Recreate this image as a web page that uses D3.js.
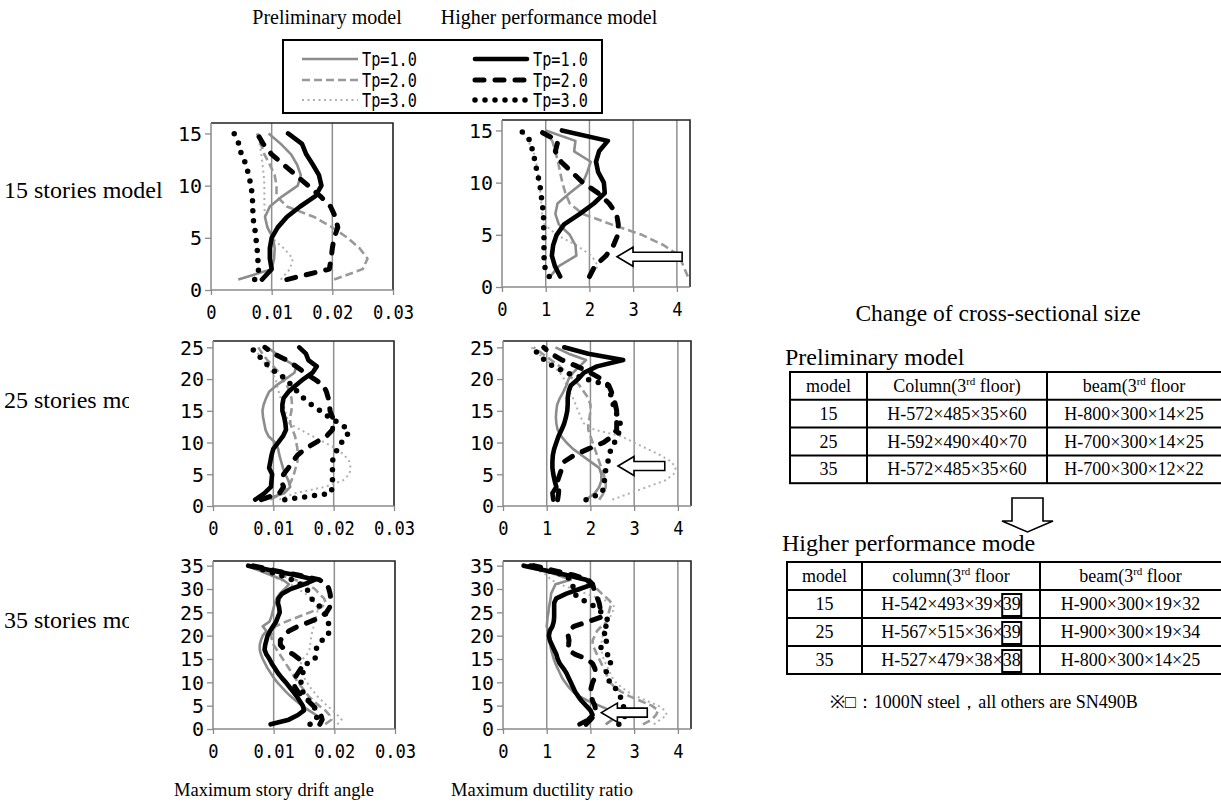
<!DOCTYPE html>
<html>
<head>
<meta charset="utf-8">
<script src="https://cdn.jsdelivr.net/npm/d3@7"></script>
<style>
  body { margin: 0; background: #fff; }
  svg { display: block; }
</style>
</head>
<body>
<svg id="fig" width="1221" height="807"></svg>
<script>
// ---- text ----
const columnTitles = ['Preliminary model', 'Higher performance model']
const rowLabels = ['15 stories model', '25 stories model', '35 stories model']
const axisTitles = ['Maximum story drift angle', 'Maximum ductility ratio']
const legendLabels = ['Tp=1.0', 'Tp=2.0', 'Tp=3.0']

// ---- tick values ----
const driftTicks = [0, 0.01, 0.02, 0.03]
const ductTicks = [0, 1, 2, 3, 4]
const floorTicks15 = [0, 5, 10, 15]
const floorTicks25 = [0, 5, 10, 15, 20, 25]
const floorTicks35 = [0, 5, 10, 15, 20, 25, 30, 35]

// ---- data: value per floor, floor 1 first ----
// 15 stories, max story drift angle
const drift15Pre1 = [0.0045, 0.0100, 0.0104, 0.0105, 0.0102, 0.0093, 0.0089, 0.0097, 0.0118, 0.0143, 0.0148, 0.0142, 0.0132, 0.0115, 0.0095]
const drift15Pre2 = [0.0203, 0.0250, 0.0258, 0.0245, 0.0225, 0.0200, 0.0170, 0.0125, 0.0108, 0.0108, 0.0105, 0.0097, 0.0088, 0.0082, 0.0076]
const drift15Pre3 = [0.0115, 0.0130, 0.0135, 0.0120, 0.0100, 0.0093, 0.0089, 0.0088, 0.0088, 0.0088, 0.0087, 0.0085, 0.0083, 0.0080, 0.0078]
const drift15Hp1 = [0.0084, 0.0100, 0.0097, 0.0097, 0.0100, 0.0110, 0.0125, 0.0147, 0.0172, 0.0182, 0.0178, 0.0168, 0.0157, 0.0150, 0.0127]
const drift15Hp2 = [0.0125, 0.0195, 0.0198, 0.0200, 0.0203, 0.0209, 0.0205, 0.0197, 0.0180, 0.0160, 0.0140, 0.0120, 0.0100, 0.0086, 0.0076]
const drift15Hp3 = [0.0072, 0.0079, 0.0077, 0.0076, 0.0074, 0.0072, 0.0069, 0.0069, 0.0068, 0.0066, 0.0062, 0.0058, 0.0050, 0.0046, 0.0038]

// 15 stories, max ductility ratio
const duct15Pre1 = [1.10, 1.30, 1.70, 1.68, 1.55, 1.30, 1.22, 1.27, 1.55, 1.85, 1.95, 2.03, 1.65, 1.68, 1.00]
const duct15Pre2 = [4.25, 4.15, 4.05, 3.70, 3.20, 2.50, 1.85, 1.55, 1.45, 1.38, 1.33, 1.28, 1.22, 1.15, 0.90]
const duct15Pre3 = [1.98, 2.20, 2.05, 1.70, 1.25, 0.97, 0.92, 0.90, 0.88, 0.85, 0.82, 0.78, 0.72, 0.60, 0.45]
const duct15Hp1 = [1.33, 1.21, 1.14, 1.17, 1.25, 1.42, 1.78, 2.10, 2.35, 2.33, 2.20, 2.15, 2.22, 2.42, 1.37]
const duct15Hp2 = [2.00, 2.12, 2.38, 2.55, 2.65, 2.66, 2.62, 2.45, 2.20, 1.85, 1.60, 1.35, 1.22, 1.28, 0.83]
const duct15Hp3 = [1.08, 0.97, 0.96, 0.96, 0.96, 0.95, 0.95, 0.92, 0.89, 0.86, 0.80, 0.76, 0.70, 0.65, 0.43]

// 25 stories, max story drift angle
const drift25Pre1 = [0.0085, 0.0118, 0.0128, 0.0125, 0.0120, 0.0116, 0.0113, 0.0110, 0.0108, 0.0103, 0.0092, 0.0087, 0.0085, 0.0083, 0.0082, 0.0084, 0.0088, 0.0093, 0.0105, 0.0120, 0.0135, 0.0138, 0.0120, 0.0105, 0.0090]
const drift25Pre2 = [0.0095, 0.0115, 0.0125, 0.0130, 0.0134, 0.0137, 0.0140, 0.0140, 0.0140, 0.0138, 0.0136, 0.0132, 0.0128, 0.0128, 0.0130, 0.0131, 0.0130, 0.0128, 0.0122, 0.0115, 0.0110, 0.0100, 0.0090, 0.0082, 0.0075]
const drift25Pre3 = [0.0110, 0.0135, 0.0185, 0.0215, 0.0226, 0.0228, 0.0226, 0.0218, 0.0205, 0.0185, 0.0165, 0.0145, 0.0127, 0.0122, 0.0120, 0.0116, 0.0112, 0.0109, 0.0106, 0.0104, 0.0098, 0.0090, 0.0082, 0.0075, 0.0068]
const drift25Hp1 = [0.0070, 0.0085, 0.0096, 0.0097, 0.0098, 0.0093, 0.0095, 0.0097, 0.0100, 0.0108, 0.0116, 0.0121, 0.0120, 0.0118, 0.0115, 0.0115, 0.0117, 0.0125, 0.0137, 0.0150, 0.0165, 0.0172, 0.0158, 0.0154, 0.0143]
const drift25Hp2 = [0.0080, 0.0110, 0.0117, 0.0113, 0.0117, 0.0125, 0.0132, 0.0140, 0.0153, 0.0170, 0.0188, 0.0198, 0.0199, 0.0198, 0.0194, 0.0193, 0.0191, 0.0188, 0.0183, 0.0168, 0.0152, 0.0138, 0.0122, 0.0100, 0.0086]
const drift25Hp3 = [0.0119, 0.0195, 0.0198, 0.0198, 0.0198, 0.0198, 0.0198, 0.0200, 0.0207, 0.0213, 0.0222, 0.0225, 0.0210, 0.0192, 0.0178, 0.0163, 0.0150, 0.0140, 0.0130, 0.0122, 0.0105, 0.0092, 0.0083, 0.0072, 0.0063]

// 25 stories, max ductility ratio
const duct25Pre1 = [1.90, 2.10, 2.20, 2.25, 2.25, 2.20, 2.00, 1.80, 1.60, 1.45, 1.33, 1.25, 1.22, 1.21, 1.22, 1.24, 1.30, 1.38, 1.45, 1.50, 1.60, 1.75, 1.90, 1.50, 1.20]
const duct25Pre2 = [2.20, 2.30, 2.35, 2.35, 2.30, 2.25, 2.20, 2.15, 2.10, 2.05, 2.00, 1.95, 1.95, 1.98, 2.00, 2.00, 1.95, 1.85, 1.75, 1.60, 1.45, 1.30, 1.10, 0.90, 0.70]
const duct25Pre3 = [2.50, 2.90, 3.30, 3.70, 3.90, 3.95, 3.85, 3.60, 3.30, 3.00, 2.70, 2.10, 1.85, 1.78, 1.72, 1.66, 1.60, 1.52, 1.45, 1.40, 1.30, 1.15, 1.00, 0.80, 0.65]
const duct25Hp1 = [1.15, 1.13, 1.22, 1.18, 1.15, 1.13, 1.13, 1.14, 1.17, 1.22, 1.27, 1.34, 1.40, 1.44, 1.47, 1.48, 1.48, 1.50, 1.55, 1.72, 1.85, 2.15, 2.75, 1.95, 1.40]
const duct25Hp2 = [1.25, 1.27, 1.28, 1.25, 1.30, 1.35, 1.40, 1.63, 1.95, 2.30, 2.50, 2.60, 2.60, 2.60, 2.60, 2.57, 2.53, 2.48, 2.42, 2.25, 2.00, 1.70, 1.35, 1.10, 0.93]
const duct25Hp3 = [1.90, 2.25, 2.32, 2.32, 2.33, 2.36, 2.40, 2.43, 2.47, 2.55, 2.62, 2.67, 2.68, 2.63, 2.57, 2.52, 2.48, 2.45, 2.40, 1.90, 1.45, 1.15, 0.95, 0.80, 0.66]

// 35 stories, max story drift angle
const drift35Pre1 = [0.0178, 0.0180, 0.0170, 0.0158, 0.0147, 0.0137, 0.0128, 0.0120, 0.0113, 0.0106, 0.0100, 0.0095, 0.0090, 0.0086, 0.0082, 0.0079, 0.0077, 0.0077, 0.0079, 0.0082, 0.0088, 0.0082, 0.0093, 0.0096, 0.0098, 0.0100, 0.0102, 0.0105, 0.0110, 0.0118, 0.0125, 0.0115, 0.0095, 0.0075, 0.0055]
const drift35Pre2 = [0.0185, 0.0195, 0.0192, 0.0185, 0.0175, 0.0166, 0.0158, 0.0152, 0.0146, 0.0140, 0.0135, 0.0130, 0.0125, 0.0120, 0.0115, 0.0110, 0.0105, 0.0100, 0.0097, 0.0096, 0.0098, 0.0103, 0.0120, 0.0140, 0.0160, 0.0178, 0.0186, 0.0183, 0.0175, 0.0168, 0.0155, 0.0135, 0.0110, 0.0085, 0.0060]
const drift35Pre3 = [0.0205, 0.0212, 0.0205, 0.0197, 0.0188, 0.0180, 0.0172, 0.0166, 0.0160, 0.0155, 0.0150, 0.0147, 0.0145, 0.0145, 0.0148, 0.0155, 0.0159, 0.0160, 0.0161, 0.0162, 0.0164, 0.0166, 0.0168, 0.0170, 0.0172, 0.0172, 0.0168, 0.0162, 0.0152, 0.0140, 0.0128, 0.0110, 0.0093, 0.0080, 0.0060]
const drift35Hp1 = [0.0095, 0.0125, 0.0140, 0.0150, 0.0148, 0.0143, 0.0138, 0.0132, 0.0126, 0.0120, 0.0113, 0.0107, 0.0102, 0.0097, 0.0093, 0.0088, 0.0085, 0.0086, 0.0088, 0.0090, 0.0094, 0.0099, 0.0104, 0.0107, 0.0110, 0.0109, 0.0107, 0.0108, 0.0114, 0.0128, 0.0150, 0.0168, 0.0135, 0.0095, 0.0058]
const drift35Hp2 = [0.0176, 0.0180, 0.0178, 0.0172, 0.0165, 0.0157, 0.0148, 0.0140, 0.0135, 0.0133, 0.0135, 0.0140, 0.0145, 0.0147, 0.0142, 0.0132, 0.0118, 0.0111, 0.0111, 0.0117, 0.0125, 0.0140, 0.0160, 0.0178, 0.0187, 0.0192, 0.0194, 0.0194, 0.0193, 0.0191, 0.0188, 0.0175, 0.0140, 0.0100, 0.0065]
const drift35Hp3 = [0.0160, 0.0170, 0.0172, 0.0170, 0.0165, 0.0158, 0.0152, 0.0148, 0.0146, 0.0145, 0.0146, 0.0148, 0.0150, 0.0155, 0.0168, 0.0170, 0.0170, 0.0172, 0.0180, 0.0190, 0.0191, 0.0191, 0.0190, 0.0188, 0.0184, 0.0178, 0.0170, 0.0162, 0.0158, 0.0155, 0.0145, 0.0130, 0.0110, 0.0085, 0.0062]

// 35 stories, max ductility ratio
const duct35Pre1 = [2.35, 2.50, 2.55, 2.45, 2.20, 1.95, 1.75, 1.60, 1.50, 1.42, 1.35, 1.30, 1.25, 1.20, 1.16, 1.13, 1.10, 1.08, 1.06, 1.05, 1.03, 1.00, 1.01, 1.02, 1.04, 1.05, 1.07, 1.09, 1.10, 1.15, 1.20, 1.55, 1.25, 0.90, 0.55]
const duct35Pre2 = [3.20, 3.40, 3.50, 3.55, 3.40, 3.15, 2.90, 2.70, 2.55, 2.45, 2.40, 2.35, 2.30, 2.25, 2.20, 2.15, 2.10, 2.05, 2.05, 2.10, 2.15, 2.25, 2.38, 2.41, 2.42, 2.45, 2.49, 2.38, 2.26, 2.15, 2.00, 1.80, 1.40, 1.00, 0.60]
const duct35Pre3 = [3.45, 3.60, 3.75, 3.70, 3.55, 3.30, 3.05, 2.85, 2.70, 2.58, 2.50, 2.45, 2.40, 2.35, 2.30, 2.27, 2.25, 2.25, 2.26, 2.28, 2.30, 2.35, 2.40, 2.45, 2.50, 2.55, 2.50, 2.20, 1.90, 1.60, 1.30, 1.09, 1.00, 0.80, 0.55]
const duct35Hp1 = [1.75, 1.95, 2.05, 2.00, 1.90, 1.80, 1.72, 1.65, 1.60, 1.55, 1.50, 1.45, 1.38, 1.30, 1.25, 1.22, 1.17, 1.12, 1.07, 1.05, 1.07, 1.13, 1.16, 1.17, 1.17, 1.17, 1.17, 1.22, 1.45, 1.75, 2.05, 1.90, 1.45, 0.95, 0.47]
const duct35Hp2 = [1.90, 2.00, 2.10, 2.12, 2.10, 2.05, 2.02, 2.00, 2.02, 2.05, 2.10, 2.12, 2.10, 2.05, 1.92, 1.65, 1.48, 1.50, 1.51, 1.49, 1.50, 1.62, 1.95, 2.25, 2.24, 2.22, 2.20, 2.16, 2.12, 2.08, 2.05, 1.95, 1.60, 1.15, 0.70]
const duct35Hp3 = [2.65, 2.75, 2.80, 2.78, 2.75, 2.72, 2.68, 2.62, 2.55, 2.45, 2.38, 2.35, 2.40, 2.45, 2.49, 2.38, 2.26, 2.22, 2.40, 2.38, 2.26, 2.35, 2.45, 2.32, 2.25, 2.15, 1.95, 1.75, 1.62, 1.60, 1.60, 1.55, 1.40, 1.00, 0.60]

// ---- arrows pointing at the improved floors (tip, tail, floor) ----
const arrowTips = [2.63, 2.63, 2.25]
const arrowTails = [4.12, 3.70, 3.30]
const arrowFloors = [2.9, 6.3, 3.5]

// ---- tables ----
const tableTitles = ['Change of cross-sectional size', 'Preliminary model', 'Higher performance mode']
const preHeader = [['model', '', ''], ['Column(3', 'rd', ' floor)'], ['beam(3', 'rd', ' floor']]
const hpHeader = [['model', '', ''], ['column(3', 'rd', ' floor'], ['beam(3', 'rd', ' floor']]
const preModels = ['15', '25', '35']
const preColumns = ['H-572×485×35×60', 'H-592×490×40×70', 'H-572×485×35×60']
const preBeams = ['H-800×300×14×25', 'H-700×300×14×25', 'H-700×300×12×22']
const hpModels = ['15', '25', '35']
const hpColumns = ['H-542×493×39×39', 'H-567×515×36×39', 'H-527×479×38×38']
const hpBeams = ['H-900×300×19×32', 'H-900×300×19×34', 'H-800×300×14×25']
const tableNote = '※□：1000N steel，all others are SN490B'

// ---- styles ----
const serif = '"Liberation Serif", "Times New Roman", serif'
const mono = '"DejaVu Sans Mono", monospace'
const squeezeX = 'scale(0.9,1)'
const squeezeY = 'scale(1.05,1)'
const squeezeLegend = 'scale(0.8,1)'

const lineStyles = {
  pre3: { stroke: '#b0b0b0', width: 2, dash: '2,3.5', cap: 'butt' },
  pre2: { stroke: '#999', width: 2.6, dash: '8,4', cap: 'butt' },
  pre1: { stroke: '#8c8c8c', width: 2.6, dash: null, cap: 'butt' },
  hp3: { stroke: '#000', width: 5.5, dash: '0,10', cap: 'round' },
  hp2: { stroke: '#000', width: 5, dash: '9,11', cap: 'round' },
  hp1: { stroke: '#000', width: 4.6, dash: null, cap: 'round' }
}
const drawOrder = ['pre3', 'pre2', 'pre1', 'hp3', 'hp2', 'hp1']

const svg = d3.select('#fig')

/**
 * Row labels sit behind the white chart areas, which clip them
 */
const labelY = [198, 408, 628]
rowLabels.forEach((t, i) => {
  svg.append('text')
    .attr('x', 4).attr('y', labelY[i])
    .attr('font-family', serif).attr('font-size', 24)
    .text(t)
})

const chartAreas = [
  { x: 165, y: 118, w: 240, h: 212 },
  { x: 129, y: 332, w: 276, h: 214 },
  { x: 129, y: 552, w: 276, h: 222 }
]
chartAreas.forEach(a => {
  svg.append('rect').attr('x', a.x).attr('y', a.y)
    .attr('width', a.w).attr('height', a.h).attr('fill', '#fff')
})

// column titles
const titleX = [327, 549]
columnTitles.forEach((t, i) => {
  svg.append('text')
    .attr('x', titleX[i]).attr('y', 24)
    .attr('text-anchor', 'middle')
    .attr('font-family', serif).attr('font-size', 20)
    .text(t)
})

// bottom titles
const bottomX = [274, 542]
axisTitles.forEach((t, i) => {
  svg.append('text')
    .attr('x', bottomX[i]).attr('y', 796)
    .attr('text-anchor', 'middle')
    .attr('font-family', serif).attr('font-size', 18.5)
    .text(t)
})

/**
 * Legend
 */
const legend = svg.append('g')
legend.append('rect')
  .attr('x', 283).attr('y', 40).attr('width', 319).attr('height', 73)
  .attr('fill', '#fff').attr('stroke', '#000').attr('stroke-width', 2)

const legendRows = [59, 80, 100]
const legendCols = [
  { x1: 302, x2: 358, tx: 362, keys: ['pre1', 'pre2', 'pre3'] },
  { x1: 472, x2: 530, tx: 533, keys: ['hp1', 'hp2', 'hp3'] }
]
legendCols.forEach(col => {
  col.keys.forEach((k, i) => {
    const s = lineStyles[k]
    legend.append('line')
      .attr('x1', col.x1 + (s.cap === 'round' ? 3 : 0)).attr('x2', col.x2 - (s.cap === 'round' ? 3 : 0))
      .attr('y1', legendRows[i]).attr('y2', legendRows[i])
      .attr('stroke', s.stroke).attr('stroke-width', s.width)
      .attr('stroke-dasharray', s.dash).attr('stroke-linecap', s.cap)
    legend.append('text')
      .attr('transform', `translate(${col.tx},${legendRows[i]}) ${squeezeLegend}`)
      .attr('dy', '0.36em')
      .attr('font-family', mono).attr('font-size', 19)
      .text(legendLabels[i])
  })
})

/**
 * Panels
 */
const panels = [
  { kind: 'drift', left: 211, right: 393, top: 123, bottom: 290, yMax: 16, yTicks: floorTicks15,
    series: { pre1: drift15Pre1, pre2: drift15Pre2, pre3: drift15Pre3, hp1: drift15Hp1, hp2: drift15Hp2, hp3: drift15Hp3 } },
  { kind: 'duct', left: 502, right: 690, top: 120, bottom: 287, yMax: 16, yTicks: floorTicks15, arrow: 0,
    series: { pre1: duct15Pre1, pre2: duct15Pre2, pre3: duct15Pre3, hp1: duct15Hp1, hp2: duct15Hp2, hp3: duct15Hp3 } },
  { kind: 'drift', left: 213, right: 394, top: 341, bottom: 506, yMax: 26, yTicks: floorTicks25,
    series: { pre1: drift25Pre1, pre2: drift25Pre2, pre3: drift25Pre3, hp1: drift25Hp1, hp2: drift25Hp2, hp3: drift25Hp3 } },
  { kind: 'duct', left: 503, right: 691, top: 341, bottom: 506, yMax: 26, yTicks: floorTicks25, arrow: 1,
    series: { pre1: duct25Pre1, pre2: duct25Pre2, pre3: duct25Pre3, hp1: duct25Hp1, hp2: duct25Hp2, hp3: duct25Hp3 } },
  { kind: 'drift', left: 213, right: 395, top: 561, bottom: 729, yMax: 36, yTicks: floorTicks35,
    series: { pre1: drift35Pre1, pre2: drift35Pre2, pre3: drift35Pre3, hp1: drift35Hp1, hp2: drift35Hp2, hp3: drift35Hp3 } },
  { kind: 'duct', left: 503, right: 691, top: 561, bottom: 729, yMax: 36, yTicks: floorTicks35, arrow: 2,
    series: { pre1: duct35Pre1, pre2: duct35Pre2, pre3: duct35Pre3, hp1: duct35Hp1, hp2: duct35Hp2, hp3: duct35Hp3 } }
]

panels.forEach(p => {
  const isDrift = p.kind === 'drift'
  const xTicks = isDrift ? driftTicks : ductTicks
  const x = d3.scaleLinear()
    .domain(isDrift ? [0, 0.03] : [0, 4.3])
    .range([p.left, p.right])
  const y = d3.scaleLinear().domain([0, p.yMax]).range([p.bottom, p.top])

  const g = svg.append('g').attr('class', 'panel')

  g.append('rect')
    .attr('x', p.left).attr('y', p.top)
    .attr('width', p.right - p.left).attr('height', p.bottom - p.top)
    .attr('fill', '#fff')

  // vertical gridlines
  g.selectAll('.grid')
    .data(xTicks.filter(v => v > 0 && x(v) < p.right - 2))
    .join('line')
    .attr('class', 'grid')
    .attr('x1', d => x(d)).attr('x2', d => x(d))
    .attr('y1', p.top).attr('y2', p.bottom)
    .attr('stroke', '#8f8f8f').attr('stroke-width', 1.5)

  // frame: top and right dark
  g.append('path')
    .attr('d', `M${p.left},${p.top}H${p.right}V${p.bottom}`)
    .attr('fill', 'none').attr('stroke', '#222').attr('stroke-width', 1.6)

  // lines
  drawOrder.forEach(k => {
    const s = lineStyles[k]
    const line = d3.line()
      .x(d => x(d))
      .y((d, i) => y(i + 1))
    g.append('path')
      .datum(p.series[k])
      .attr('d', line)
      .attr('fill', 'none')
      .attr('stroke', s.stroke)
      .attr('stroke-width', s.width)
      .attr('stroke-dasharray', s.dash)
      .attr('stroke-linecap', s.cap)
      .attr('stroke-linejoin', 'round')
  })

  // axes
  const yAxis = d3.axisLeft(y).tickValues(p.yTicks).tickSize(6).tickFormat(d3.format('d'))
  const ya = g.append('g').attr('transform', `translate(${p.left},0)`).call(yAxis)
  ya.select('.domain').attr('d', `M0,${p.top}V${p.bottom}`)

  const fmt = isDrift ? (d => (d === 0 ? '0' : d3.format('.2f')(d))) : d3.format('d')
  const xAxis = d3.axisBottom(x).tickValues(xTicks).tickSize(5).tickFormat(fmt)
  const xa = g.append('g').attr('transform', `translate(0,${p.bottom})`).call(xAxis)
  xa.select('.domain').attr('d', `M${p.left},0H${p.right}`)

  ;[ya, xa].forEach(a => {
    a.select('.domain').attr('stroke', '#8a8a8a').attr('stroke-width', 1.5)
    a.selectAll('.tick line').attr('stroke', '#8a8a8a').attr('stroke-width', 1.3)
    a.selectAll('.tick text')
      .attr('font-family', mono).attr('font-size', 19).attr('fill', '#000')
  })
  ya.selectAll('.tick text').attr('x', -8.5).attr('dy', '0.36em').attr('transform', squeezeY)
  xa.selectAll('.tick text').attr('y', 22).attr('dy', '0.36em').attr('transform', squeezeX)

  // hollow arrow
  if (p.arrow !== undefined) {
    const tip = x(arrowTips[p.arrow])
    const tail = x(arrowTails[p.arrow])
    const cy = y(arrowFloors[p.arrow])
    const headLen = 16, headH = 9.5, bodyH = 4.5
    const pts = [
      [tip, cy], [tip + headLen, cy - headH], [tip + headLen, cy - bodyH], [tail, cy - bodyH],
      [tail, cy + bodyH], [tip + headLen, cy + bodyH], [tip + headLen, cy + headH]
    ]
    g.append('polygon')
      .attr('points', pts.map(d => d.join(',')).join(' '))
      .attr('fill', '#fff').attr('stroke', '#000').attr('stroke-width', 1.6)
  }
})

/**
 * Tables of cross-sectional size
 */
const tfont = 18
svg.append('text')
  .attr('x', 998).attr('y', 321).attr('text-anchor', 'middle')
  .attr('font-family', serif).attr('font-size', 23.5)
  .text(tableTitles[0])

function drawTable(title, titleX, titleY, left, cols, top, rowH, header, models, columns, beams, boxed) {
  svg.append('text')
    .attr('x', titleX).attr('y', titleY)
    .attr('font-family', serif).attr('font-size', 24)
    .text(title)

  const g = svg.append('g')
  const right = 1230
  const nRows = 1 + models.length
  const bottom = top + rowH * nRows
  const edges = [left].concat(cols).concat([right])

  // grid
  g.append('rect').attr('x', left).attr('y', top)
    .attr('width', right - left).attr('height', bottom - top)
    .attr('fill', '#fff').attr('stroke', '#000').attr('stroke-width', 2)
  cols.forEach(cx => {
    g.append('line').attr('x1', cx).attr('x2', cx).attr('y1', top).attr('y2', bottom)
      .attr('stroke', '#000').attr('stroke-width', 2)
  })
  d3.range(1, nRows).forEach(r => {
    g.append('line').attr('x1', left).attr('x2', right)
      .attr('y1', top + r * rowH).attr('y2', top + r * rowH)
      .attr('stroke', '#000').attr('stroke-width', 2)
  })

  const centers = [0, 1, 2].map(c => (edges[c] + (c === 2 ? 1221 : edges[c + 1])) / 2)
  const base = r => top + r * rowH + rowH / 2 + 6

  header.forEach((h, c) => {
    const t = g.append('text')
      .attr('x', centers[c]).attr('y', base(0))
      .attr('text-anchor', 'middle')
      .attr('font-family', serif).attr('font-size', tfont)
    t.append('tspan').text(h[0])
    if (h[1]) {
      t.append('tspan').attr('dy', -7).attr('font-size', 11).text(h[1])
      t.append('tspan').attr('dy', 7).text(h[2])
    }
  })

  models.forEach((m, r) => {
    const vals = [m, columns[r], beams[r]]
    vals.forEach((v, c) => {
      const t = g.append('text')
        .attr('x', centers[c]).attr('y', base(r + 1))
        .attr('text-anchor', 'middle')
        .attr('font-family', serif).attr('font-size', tfont)
        .text(v)
      if (boxed && c === 1) {
        const n = v.length
        const a = t.node().getExtentOfChar(n - 2)
        const b = t.node().getExtentOfChar(n - 1)
        g.append('rect')
          .attr('x', a.x - 0.5).attr('y', top + (r + 1) * rowH + 4)
          .attr('width', b.x + b.width - a.x + 1).attr('height', rowH - 6)
          .attr('fill', 'none').attr('stroke', '#000').attr('stroke-width', 2)
      }
    })
  })
}

drawTable(tableTitles[1], 785, 365, 790, [867, 1047], 372, 27.8, preHeader, preModels, preColumns, preBeams, false)

// down arrow between the tables
svg.append('polygon')
  .attr('points', [[1012, 498], [1043, 498], [1043, 521], [1053, 521], [1027.5, 532], [1002, 521], [1012, 521]]
    .map(d => d.join(',')).join(' '))
  .attr('fill', '#fff').attr('stroke', '#000').attr('stroke-width', 1.6)

drawTable(tableTitles[2], 782, 551, 787, [862, 1040], 562, 28, hpHeader, hpModels, hpColumns, hpBeams, true)

svg.append('text')
  .attr('x', 830).attr('y', 708)
  .attr('font-family', serif).attr('font-size', 18)
  .text(tableNote)
</script>
</body>
</html>
